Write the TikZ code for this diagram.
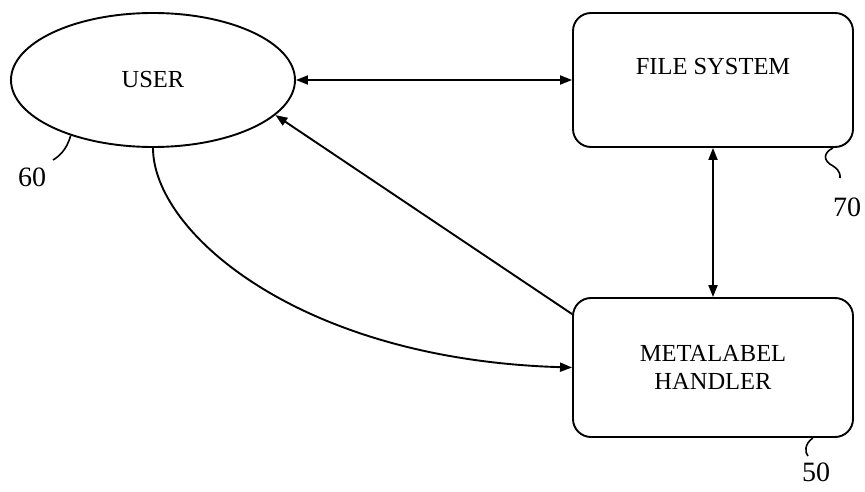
\documentclass[tikz,border=0pt]{standalone}
\usepackage{fontspec}
\setmainfont{Liberation Serif}
\usetikzlibrary{shapes.geometric,arrows.meta}

\begin{document}
\begin{tikzpicture}[x=1pt,y=1pt,line width=1.9pt,
    font=\fontsize{24.5}{28}\selectfont,
    tip/.style={-{Triangle[length=12pt,width=9pt]}},
    dtip/.style={{Triangle[length=12pt,width=9pt]}-{Triangle[length=12pt,width=9pt]}},
    blocco/.style={draw,rectangle,rounded corners=18pt,minimum width=280pt,align=center},
    rif/.style={font=\fontsize{28}{30}\selectfont,inner sep=0pt}]
\useasboundingbox (0,0) rectangle (865,-492); % area del disegno

\node[draw,ellipse,inner sep=0pt,minimum width=284pt,minimum height=134pt] (user) at (153,-80) {USER}; % utente
\node[blocco,minimum height=134pt,text depth=28pt] (fs) at (713,-80) {FILE SYSTEM}; % file system
\node[blocco,minimum height=139pt] (mh) at (713,-367.5) {METALABEL\\HANDLER}; % gestore

\draw[dtip] (user.east) -- (fs.west); % utente <-> file system
\draw[dtip] (fs.south) -- (mh.north); % file system <-> gestore
\draw[tip] ([yshift=-17pt]mh.north west) -- (user.-16); % gestore -> utente
\draw[tip] (user.south) .. controls +(0,-84) and +(-273,8) .. (mh.west); % utente -> gestore

% numeri di riferimento
\node[rif] (n60) at (32,-177) {60};
\node[rif] (n70) at (847,-207) {70};
\node[rif] (n50) at (816,-472) {50};
\coordinate (t60) at (53,-160);
\coordinate (t70) at (840,-178);
\coordinate (t50) at (808,-456);
\draw[line width=1.6pt] (user.-146) .. controls +(-4,-15) and +(5,3) .. (t60);
\draw[line width=1.6pt] ([xshift=-21pt]fs.south east) .. controls +(-10,-5) and +(-10,5) .. ++(0,-18)
    .. controls +(8,-5) and +(0,2) .. (t70);
\draw[line width=1.6pt] ([xshift=-41pt]mh.south east) .. controls +(-9,-6) and +(-3,3) .. (t50);
\end{tikzpicture}
\end{document}
